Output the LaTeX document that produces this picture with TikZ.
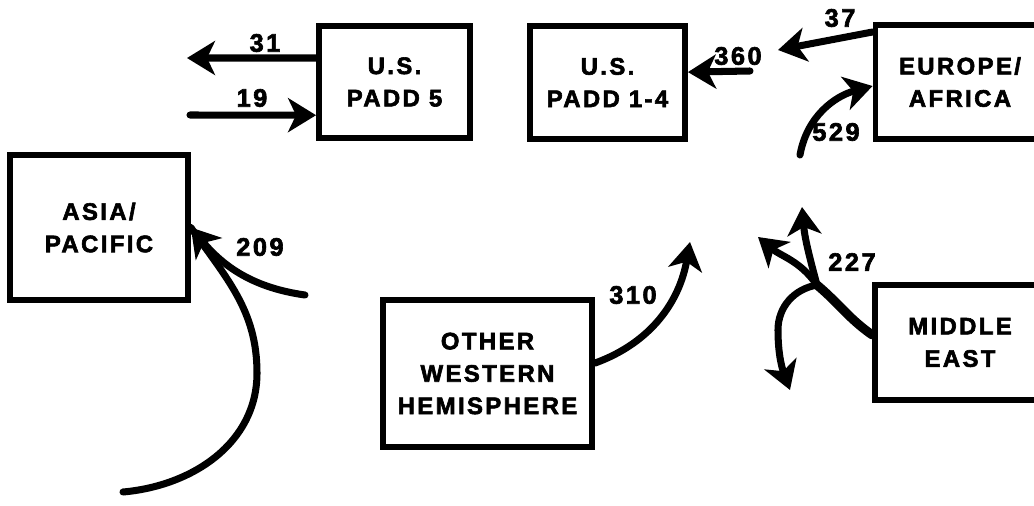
\documentclass[tikz,border=0pt]{standalone}
\usepackage{fontspec}
\newfontfamily\diafont{Liberation Sans Bold}[LetterSpace=10,FakeBold=2.5]
\usetikzlibrary{arrows.meta}

\begin{document}
\begin{tikzpicture}[x=0.025cm,y=-0.025cm,
  >={Stealth[length=7mm,width=8.5mm,inset=2mm]},
  region/.style={draw,line width=4pt,align=center,font=\diafont\fontsize{17}{23}\selectfont},
  flow/.style={->,line width=5pt,line cap=round},
  qty/.style={font=\diafont\fontsize{18}{18}\selectfont}]
 \useasboundingbox (0,0) rectangle (1034,506);
 \node[region,minimum width=3.78cm,minimum height=2.8cm] (padd5) at (394.5,82) {U.S.\\PADD 5};
 \node[region,minimum width=3.88cm,minimum height=2.83cm] (padd14) at (607.5,82.5) {U.S.\\PADD 1-4};
 \node[region,minimum width=4.23cm,minimum height=2.85cm] (europe) at (960,82) {EUROPE/\\AFRICA};
 \node[region,minimum width=4.45cm,minimum height=3.63cm] (asia) at (99,227.5) {ASIA/\\PACIFIC};
 \node[region,minimum width=5.23cm,minimum height=3.68cm] (owh) at (487.5,373.5) {OTHER\\WESTERN\\HEMISPHERE};
 \node[region,minimum width=4.25cm,minimum height=2.88cm] (mideast) at (960,342.5) {MIDDLE\\EAST};

 \coordinate (w31) at (187,58);
 \coordinate (w19) at (190,115);
 \coordinate (e360) at (750,71);
 \coordinate (w37) at (778,50);
 \coordinate (s529) at (800,155);
 \coordinate (s209a) at (305,295);
 \coordinate (s209b) at (123,492);
 \coordinate (m209) at (257,373);
 \coordinate (n310) at (690,242);
 \coordinate (fork) at (817,285);
 \coordinate (n227a) at (802,207);
 \coordinate (n227b) at (758,237);
 \coordinate (m227) at (778,330);
 \coordinate (s227c) at (790,390);

 \draw[flow] ([yshift=0.6cm]padd5.west) -- (w31);
 \draw[flow] (w19) -- ([yshift=-0.83cm]padd5.west);
 \draw[flow] (e360) -- ([yshift=0.26cm]padd14.east);
 \draw[flow] ([yshift=1.25cm]europe.west) -- (w37);
 \draw[flow] (s529) to[out=80,in=195] ([yshift=-0.1cm]europe.west);
 \draw[line width=5pt,line cap=round] (s209b) to[out=5,in=-90] (m209) to[out=90,in=-55] (asia.east);
 \draw[flow] (s209a) to[out=172,in=-50] (asia.east);
 \draw[flow] ([yshift=0.26cm]owh.east) to[out=20,in=-100] (n310);
 \draw[line width=6.5pt,line cap=round] ([yshift=0.19cm]mideast.west) to[out=145,in=-40] (fork);
 \draw[flow] (fork) to[out=105,in=-85] (n227a);
 \draw[flow] (fork) to[out=125,in=-40] (n227b);
 \draw[flow] (fork) to[out=190,in=90] (m227) to[out=-90,in=110] (s227c);

 \node[qty] (q31) at (265,43) {31};
 \node[qty] (q19) at (252,98) {19};
 \node[qty] (q360) at (738,56) {360};
 \node[qty] (q37) at (840,18) {37};
 \node[qty] (q529) at (836,132) {529};
 \node[qty] (q209) at (260,247) {209};
 \node[qty] (q310) at (633,295) {310};
 \node[qty] (q227) at (852,262) {227};
\end{tikzpicture}
\end{document}
